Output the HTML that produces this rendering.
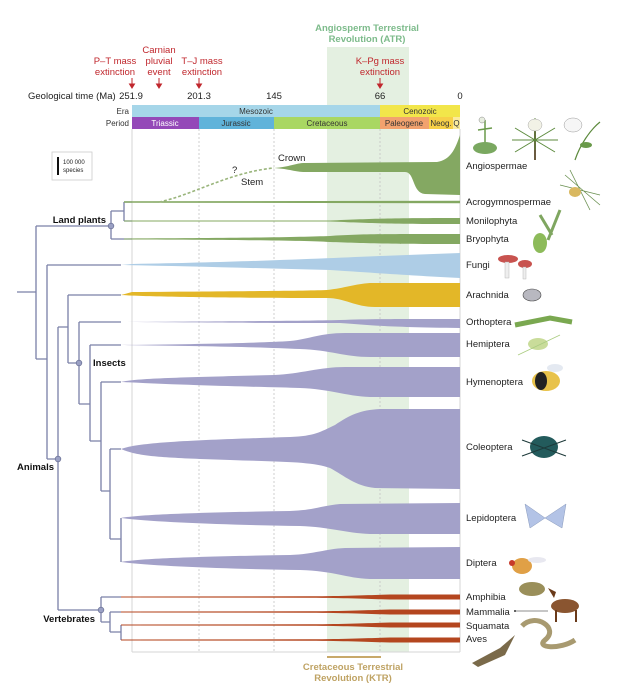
<!DOCTYPE html>
<html><head><meta charset="utf-8"><style>
html,body{margin:0;padding:0;background:#fff;}
svg{display:block;font-family:"Liberation Sans",Arial,sans-serif;}
</style></head><body>
<svg width="617" height="700" viewBox="0 0 617 700" xmlns="http://www.w3.org/2000/svg">
<rect x="327" y="47" width="82" height="605" fill="#e4f0e1"/>
<text x="367" y="31" text-anchor="middle" font-size="9.5" fill="#7dbb8b" font-weight="bold">Angiosperm Terrestrial</text>
<text x="367" y="42" text-anchor="middle" font-size="9.5" fill="#7dbb8b" font-weight="bold">Revolution (ATR)</text>
<g font-size="9.5" fill="#c0272d" text-anchor="middle">
<text x="115" y="64">P–T mass</text><text x="115" y="75">extinction</text>
<text x="159" y="53">Carnian</text><text x="159" y="64">pluvial</text><text x="159" y="75">event</text>
<text x="202" y="64">T–J mass</text><text x="202" y="75">extinction</text>
<text x="380" y="64">K–Pg mass</text><text x="380" y="75">extinction</text>
</g>
<g stroke="#c0272d" stroke-width="1" fill="#c0272d">
<line x1="132" y1="78" x2="132" y2="86"/><path d="M129.5,84 L132,88 L134.5,84Z"/>
<line x1="159" y1="78" x2="159" y2="86"/><path d="M156.5,84 L159,88 L161.5,84Z"/>
<line x1="199" y1="78" x2="199" y2="86"/><path d="M196.5,84 L199,88 L201.5,84Z"/>
<line x1="380" y1="78" x2="380" y2="86"/><path d="M377.5,84 L380,88 L382.5,84Z"/>
</g>
<g font-size="9.5" fill="#222">
<text x="28" y="99">Geological time (Ma)</text>
<text x="131" y="99" text-anchor="middle">251.9</text>
<text x="199" y="99" text-anchor="middle">201.3</text>
<text x="274" y="99" text-anchor="middle">145</text>
<text x="380" y="99" text-anchor="middle">66</text>
<text x="460" y="99" text-anchor="middle">0</text>
</g>
<rect x="132" y="105" width="248" height="12" fill="#a6d6e9"/>
<rect x="380" y="105" width="80" height="12" fill="#f2e64a"/>
<rect x="132" y="117" width="67" height="12" fill="#9448b8"/>
<rect x="199" y="117" width="75" height="12" fill="#60b3da"/>
<rect x="274" y="117" width="106" height="12" fill="#a9d762"/>
<rect x="380" y="117" width="49" height="12" fill="#f2a26e"/>
<rect x="429" y="117" width="24" height="12" fill="#f7d048"/>
<rect x="453" y="117" width="7" height="12" fill="#fbeb9c"/>
<g font-size="8" fill="#333">
<text x="129" y="114" text-anchor="end">Era</text>
<text x="129" y="126" text-anchor="end">Period</text>
<text x="256" y="114" text-anchor="middle">Mesozoic</text>
<text x="420" y="114" text-anchor="middle">Cenozoic</text>
<text x="165" y="126" text-anchor="middle" fill="#fff">Triassic</text>
<text x="236" y="126" text-anchor="middle">Jurassic</text>
<text x="327" y="126" text-anchor="middle">Cretaceous</text>
<text x="404" y="126" text-anchor="middle">Paleogene</text>
<text x="441" y="126" text-anchor="middle">Neog.</text>
<text x="456.5" y="126" text-anchor="middle">Q</text>
</g>
<g stroke="#d6d6d6" stroke-width="1" fill="none">
<line x1="132" y1="129" x2="132" y2="652"/>
<line x1="460" y1="129" x2="460" y2="652"/>
<line x1="132" y1="652" x2="460" y2="652"/>
</g>
<g stroke="#c4c4c4" stroke-width="0.8" stroke-dasharray="2,2">
<line x1="199" y1="129" x2="199" y2="652"/>
<line x1="274" y1="129" x2="274" y2="652"/>
<line x1="380" y1="129" x2="380" y2="652"/>
</g>
<rect x="52" y="152" width="40" height="28" fill="#fff" stroke="#ccc" stroke-width="0.8"/>
<line x1="58" y1="157" x2="58" y2="175" stroke="#111" stroke-width="2"/>
<text x="63" y="164" font-size="6" fill="#222">100 000</text>
<text x="63" y="172" font-size="6" fill="#222">species</text>
<g stroke="#7a80a8" stroke-width="1.3" fill="none">
<path d="M17,292 H36 M36,226 V359 M36,226 H111 M111,211 V239 M111,211 H124 M124,202 V221 M124,202 H132 M124,221 H132 M111,239 H132"/>
<path d="M36,359 H47 M47,265 V459 M47,265 H121 M47,459 H58 M58,327 V610 M58,327 H68 M68,295 V363 M68,295 H121 M68,363 H79 M79,322 V404 M79,322 H121 M79,404 H90 M90,345 V441 M90,345 H121 M90,441 H101 M101,382 V491 M101,382 H121 M101,491 H110 M110,449 V539 M110,449 H121 M110,539 H121 M121,518 V562"/>
<path d="M58,610 H101 M101,597 V622 M101,597 H121 M101,622 H110 M110,612 V632 M110,612 H121 M110,632 H121 M121,625 V640"/>
</g>
<g fill="#9aa0c4" stroke="#6e7499" stroke-width="0.8">
<circle cx="111" cy="226" r="2.8"/><circle cx="58" cy="459" r="2.8"/><circle cx="79" cy="363" r="2.8"/><circle cx="101" cy="610" r="2.8"/>
</g>
<g font-size="9.5" font-weight="bold" fill="#111">
<text x="106" y="223" text-anchor="end">Land plants</text>
<text x="54" y="470" text-anchor="end">Animals</text>
<text x="93" y="366">Insects</text>
<text x="95" y="622" text-anchor="end">Vertebrates</text>
</g>
<g fill="#84a862">
<path d="M124,201.3 L460,200.8 L460,203.2 L124,202.7Z"/>
<path d="M124,220.5 L330,220.5 C370,219 380,218 460,218 L460,224 C380,224 370,223 330,221.5 L124,221.5Z"/>
<path d="M124,238.5 C250,238 300,237 330,236 C360,234 380,234 460,234 L460,244 C380,244 360,243 330,242 C300,240.5 250,240 124,239.5Z"/>
<path d="M274,168 C290,167 295,163 305,163 L437,162 C450,160 455,150 460,135 L460,195 L425,194 C412,193 415,172 405,172 L305,172 C295,172 290,169 274,168Z"/>
</g>
<path d="M159,202 C190,196 230,172 274,168" stroke="#9ab57c" stroke-width="1.6" fill="none" stroke-dasharray="3,2"/>
<g font-size="9.5" fill="#222">
<text x="278" y="161">Crown</text>
<text x="232" y="173">?</text>
<text x="241" y="185">Stem</text>
</g>
<path fill="#aecde6" d="M121,265 L132,264 C250,262 330,258 380,256 L460,253 L460,278 C420,276 390,274 330,270 C250,268 180,266 121,265Z"/>
<path fill="#e3b728" d="M121,295 L132,292 C250,291 300,291 327,290 C345,288 355,284 370,283 L460,283 L460,307 L375,307 C355,307 345,298 327,298 C250,298 150,297 121,295Z"/>
<g fill="#a3a1c9">
<path d="M121,322 C250,321 300,321 340,320 C370,319 380,319 460,319 L460,328 C380,327 370,325 340,323 C300,323 250,323 121,322Z"/>
<path d="M121,345 C200,344 260,343 290,341 C310,339 320,333 345,333 L460,333 L460,357 L370,357 C345,357 330,350 300,349 C260,347 200,346 121,345Z"/>
<path d="M121,382 C135,378 200,377 274,375 C300,374 320,367 345,367 L460,367 L460,397 L370,397 C345,396 330,389 300,388 C270,387 200,386 121,382Z"/>
<path d="M121,449 C140,442 200,440 290,437 C315,436 320,432 335,425 C350,415 360,410 380,409 L460,409 L460,489 L375,488 C355,486 345,476 330,468 C310,461 280,462 200,459 C150,457 135,455 121,449Z"/>
<path d="M121,518 C140,514 220,512 290,511 C315,510 320,506 340,504 L460,503 L460,534 L370,534 C345,533 330,527 300,526 C230,525 150,522 121,518Z"/>
<path d="M121,562 C140,558 220,556 290,555 C315,554 325,549 345,548 L460,547 L460,579 L370,579 C345,578 335,571 300,570 C230,569 150,566 121,562Z"/>
</g>
<g fill="#b4461f">
<path d="M121,596.5 L310,596.3 C350,596 370,595 390,594.5 L460,594.5 L460,599.5 L390,599.5 C370,599 350,598 310,597.7 L121,597.5Z"/>
<path d="M121,611.5 L310,611.3 C350,611 370,610 390,609.5 L460,609.5 L460,614.5 L390,614.5 C370,614 350,613 310,612.7 L121,612.5Z"/>
<path d="M121,624.5 L310,624.3 C350,624 370,623 390,622.5 L460,622.5 L460,627.5 L390,627.5 C370,627 350,626 310,625.7 L121,625.5Z"/>
<path d="M121,639.5 L310,639.3 C350,639 370,638 390,637.5 L460,637.5 L460,642.5 L390,642.5 C370,642 350,641 310,640.7 L121,640.5Z"/>
</g>
<rect x="327" y="656" width="54" height="2" fill="#c8a96a"/>
<text x="353" y="670" text-anchor="middle" font-size="9.5" font-weight="bold" fill="#bfa364">Cretaceous Terrestrial</text>
<text x="353" y="681" text-anchor="middle" font-size="9.5" font-weight="bold" fill="#bfa364">Revolution (KTR)</text>
<g font-size="9.5" fill="#222">
<text x="466" y="169">Angiospermae</text>
<text x="466" y="205">Acrogymnospermae</text>
<text x="466" y="224">Monilophyta</text>
<text x="466" y="242">Bryophyta</text>
<text x="466" y="268">Fungi</text>
<text x="466" y="298">Arachnida</text>
<text x="466" y="325">Orthoptera</text>
<text x="466" y="347">Hemiptera</text>
<text x="466" y="385">Hymenoptera</text>
<text x="466" y="450">Coleoptera</text>
<text x="466" y="521">Lepidoptera</text>
<text x="466" y="566">Diptera</text>
<text x="466" y="600">Amphibia</text>
<text x="466" y="615">Mammalia</text>
<text x="466" y="629">Squamata</text>
<text x="466" y="642">Aves</text>
</g>
<line x1="515" y1="611" x2="548" y2="611" stroke="#666" stroke-width="0.7"/><circle cx="515" cy="611" r="1" fill="#333"/>
<g>
<path d="M485,120 L485,150 M478,130 L492,128" stroke="#6a9a4a" stroke-width="1.5"/>
<ellipse cx="485" cy="148" rx="12" ry="6" fill="#7aa860"/>
<circle cx="482" cy="120" r="3" fill="#e8eee0" stroke="#888" stroke-width="0.5"/>
<path d="M535,160 L535,130" stroke="#6a5a40" stroke-width="2"/>
<path d="M512,140 L558,140 M515,128 L555,152 M515,152 L555,128 M535,118 L535,150" stroke="#5c8a3c" stroke-width="1"/>
<ellipse cx="535" cy="125" rx="7" ry="6" fill="#f2f2e6" stroke="#aaa" stroke-width="0.5"/>
<path d="M575,160 C580,145 590,130 600,122" stroke="#5c8a3c" stroke-width="1.2" fill="none"/>
<ellipse cx="573" cy="125" rx="9" ry="7" fill="#f6f6f6" stroke="#999" stroke-width="0.5"/>
<ellipse cx="586" cy="145" rx="6" ry="3" fill="#6a9a4a"/>
<path d="M565,175 L600,205 M570,170 L590,210 M560,185 L600,195" stroke="#6a9050" stroke-width="0.8"/>
<ellipse cx="575" cy="192" rx="6" ry="5" fill="#d9b860"/>
<path d="M548,240 L560,210 M552,235 L540,215" stroke="#7fa660" stroke-width="3"/>
<ellipse cx="540" cy="243" rx="7" ry="10" fill="#8dbb5a"/>
<ellipse cx="508" cy="259" rx="10" ry="4" fill="#c8534f"/>
<ellipse cx="525" cy="264" rx="7" ry="4" fill="#c8534f"/>
<rect x="505" y="262" width="4" height="16" fill="#eee" stroke="#aaa" stroke-width="0.4"/>
<rect x="523" y="267" width="3" height="12" fill="#eee" stroke="#aaa" stroke-width="0.4"/>
<ellipse cx="532" cy="295" rx="9" ry="6" fill="#b8b8c0" stroke="#444" stroke-width="0.6"/>
<path d="M515,325 L550,318 L572,322" stroke="#7aa850" stroke-width="5" fill="none"/>
<ellipse cx="538" cy="344" rx="10" ry="6" fill="#c9dc9a"/>
<path d="M518,355 L560,335" stroke="#aacc80" stroke-width="0.8"/>
<ellipse cx="546" cy="381" rx="14" ry="10" fill="#e8c24a"/>
<ellipse cx="541" cy="381" rx="6" ry="9" fill="#222"/>
<ellipse cx="555" cy="368" rx="8" ry="4" fill="#dde4ee" opacity="0.8"/>
<ellipse cx="544" cy="447" rx="14" ry="11" fill="#235b5c"/>
<path d="M522,440 L566,456 M522,456 L566,440" stroke="#1d3a3a" stroke-width="1"/>
<path d="M545,518 L525,504 L530,528Z M545,518 L566,504 L562,528Z" fill="#b3c3e6" stroke="#8899bb" stroke-width="0.5"/>
<ellipse cx="522" cy="566" rx="10" ry="8" fill="#e0a046"/>
<ellipse cx="537" cy="560" rx="9" ry="3" fill="#e6e6ee" opacity="0.9"/>
<circle cx="512" cy="563" r="3" fill="#c73a2a"/>
<ellipse cx="532" cy="589" rx="13" ry="7" fill="#9a8f5a"/>
<ellipse cx="565" cy="606" rx="14" ry="7" fill="#8a5530"/>
<path d="M554,598 L548,588 L556,592Z" fill="#6a3a1a"/>
<path d="M556,610 L556,622 M576,610 L576,622" stroke="#6a3a1a" stroke-width="2"/>
<path d="M522,626 C535,612 560,628 545,640 C535,648 560,650 575,640" stroke="#a89a70" stroke-width="5" fill="none"/>
<path d="M472,663 L500,648 L515,635 L505,655 L478,667Z" fill="#7a6a4a"/>
</g>
</svg>
</body></html>
